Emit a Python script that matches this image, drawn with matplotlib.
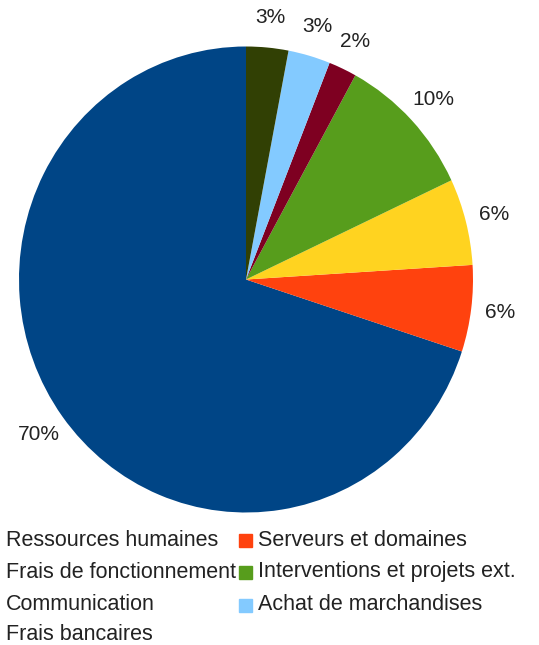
import matplotlib.pyplot as plt
from matplotlib.patches import Rectangle

plt.rcParams['font.family'] = ['Liberation Sans', 'DejaVu Sans']

labels = ["Ressources humaines", "Serveurs et domaines", "Frais de fonctionnement",
          "Interventions et projets ext.", "Communication", "Achat de marchandises",
          "Frais bancaires"]
values = [70, 6, 6, 10, 2, 3, 3]
colors = ["#004586", "#ff420e", "#ffd320", "#579d1c", "#7e0021", "#83caff", "#314004"]

W, H = 539, 645
fig = plt.figure(figsize=(W / 100, H / 100), dpi=100)

# pie centre ~ (246, 279.5) px from top, slightly squashed horizontally
cx, cy, rx, ry = 246, 279.5, 227, 233
ax = fig.add_axes([(cx - rx) / W, (H - cy - ry) / H, 2 * rx / W, 2 * ry / H])
ax.pie(values, colors=colors, startangle=90, counterclock=True,
       autopct="%d%%", pctdistance=1.13, radius=1,
       textprops={"fontsize": 15, "color": "#222222"})
ax.set_xlim(-1, 1)
ax.set_ylim(-1, 1)
ax.set_aspect("auto")
ax.axis("off")

# legend: two columns, left column markers fall outside the image
row_y = [540, 572, 605, 635]
col_text_x = [6, 258]
col_box_x = [-20, 239]
for i, (lab, col) in enumerate(zip(labels, colors)):
    row, c = divmod(i, 2)
    y = row_y[row]
    fig.add_artist(Rectangle((col_box_x[c] / W, (H - y - 6.5) / H), 13 / W, 13 / H,
                             transform=fig.transFigure, color=col))
    fig.text(col_text_x[c] / W, (H - y) / H, lab, fontsize=15.5, va="center",
             ha="left", color="#222222")

fig.savefig("out.png", dpi=100)
